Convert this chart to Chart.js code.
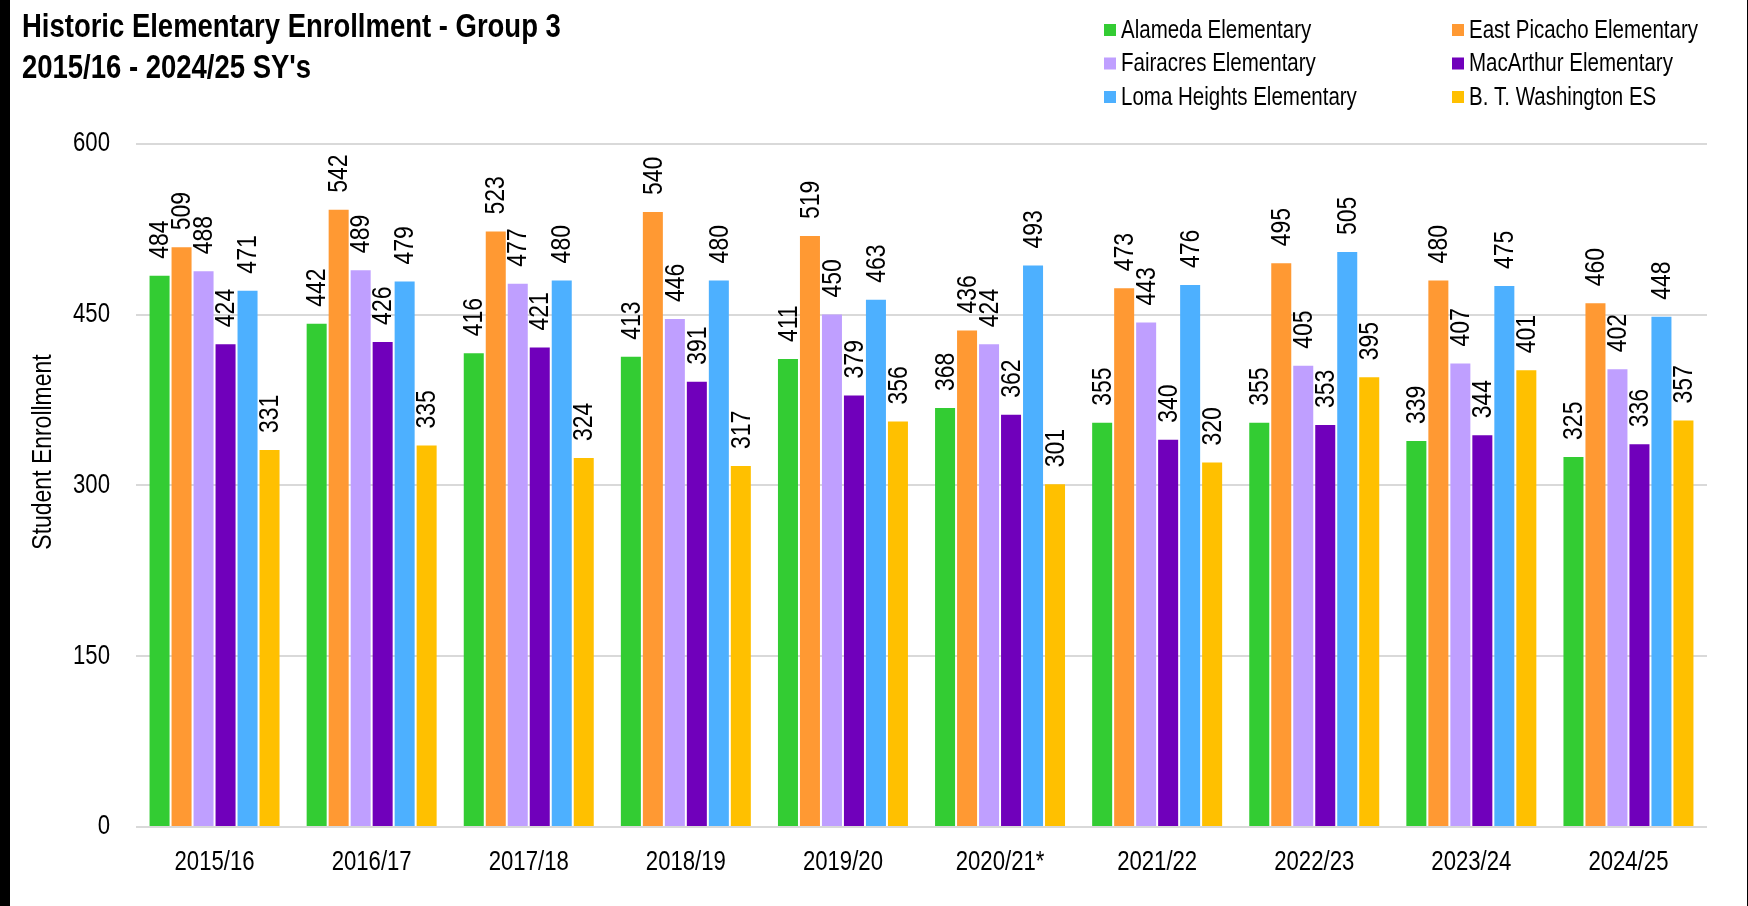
<!DOCTYPE html>
<html>
<head>
<meta charset="utf-8">
<script src="https://cdn.jsdelivr.net/npm/chart.js@4.4.1/dist/chart.umd.min.js"></script>
<style>
  html, body { margin: 0; padding: 0; background: #ffffff; }
  #wrap { position: absolute; left: 0; top: 0; width: 1737px; height: 906px; border-left: 10px solid #000; border-right: 1px solid #000; background: #fff; }
  canvas { display: block; }
</style>
</head>
<body>
<div id="wrap"><canvas id="c" width="1737" height="906"></canvas></div>
<script>
const years = ['2015/16','2016/17','2017/18','2018/19','2019/20','2020/21*','2021/22','2022/23','2023/24','2024/25'];
const schoolNames = ['Alameda Elementary','East Picacho Elementary','Fairacres Elementary','MacArthur Elementary','Loma Heights Elementary','B. T. Washington ES'];
const alameda     = [484,442,416,413,411,368,355,355,339,325];
const eastPicacho = [509,542,523,540,519,436,473,495,480,460];
const fairacres   = [488,489,477,446,450,424,443,405,407,402];
const macArthur   = [424,426,421,391,379,362,340,353,344,336];
const lomaHeights = [471,479,480,480,463,493,476,505,475,448];
const btWashington= [331,335,324,317,356,301,320,395,401,357];
const yTicks = [0,150,300,450,600];
const titleLines = ['Historic Elementary Enrollment - Group 3', "2015/16 - 2024/25 SY's"];
const yAxisTitle = 'Student Enrollment';

const colors = ['#33CC33','#FF9933','#BF9FFF','#7000BB','#4DB0FF','#FFC000'];
const seriesValues = [alameda, eastPicacho, fairacres, macArthur, lomaHeights, btWashington];
const FONT = "'Liberation Sans Narrow','Arial Narrow','Liberation Sans',Arial,sans-serif";

// The original uses a narrow typeface; emulate it by condensing text horizontally.
const NARROW = 0.82;
(function () {
  const proto = CanvasRenderingContext2D.prototype;
  const origFill = proto.fillText;
  const origMeasure = proto.measureText;
  proto.fillText = function (text, x, y, maxWidth) {
    this.save();
    this.translate(x, y);
    this.scale(NARROW, 1);
    if (maxWidth !== undefined) origFill.call(this, text, 0, 0, maxWidth / NARROW);
    else origFill.call(this, text, 0, 0);
    this.restore();
  };
  proto.measureText = function (text) {
    const m = origMeasure.call(this, text);
    return {
      width: m.width * NARROW,
      actualBoundingBoxAscent: m.actualBoundingBoxAscent,
      actualBoundingBoxDescent: m.actualBoundingBoxDescent,
      actualBoundingBoxLeft: m.actualBoundingBoxLeft * NARROW,
      actualBoundingBoxRight: m.actualBoundingBoxRight * NARROW,
      fontBoundingBoxAscent: m.fontBoundingBoxAscent,
      fontBoundingBoxDescent: m.fontBoundingBoxDescent
    };
  };
})();

const datasets = seriesValues.map((vals, i) => ({
  label: schoolNames[i],
  data: vals,
  backgroundColor: colors[i],
  borderWidth: 0,
  barPercentage: 0.91,
  categoryPercentage: 0.84
}));

const valueLabels = {
  id: 'valueLabels',
  afterDatasetsDraw(chart) {
    const ctx = chart.ctx;
    ctx.save();
    ctx.fillStyle = '#000';
    ctx.font = '28px ' + FONT;
    ctx.textAlign = 'left';
    ctx.textBaseline = 'middle';
    chart.data.datasets.forEach((ds, di) => {
      const meta = chart.getDatasetMeta(di);
      meta.data.forEach((el, idx) => {
        ctx.save();
        ctx.translate(el.x, el.y - 17);
        ctx.rotate(-Math.PI / 2);
        ctx.fillText(String(ds.data[idx]), 0, 1);
        ctx.restore();
      });
    });
    ctx.restore();
  }
};

const extras = {
  id: 'extras',
  afterDraw(chart) {
    const ctx = chart.ctx;
    ctx.save();
    // legend in two columns
    ctx.font = '25px ' + FONT;
    ctx.textAlign = 'left';
    ctx.textBaseline = 'middle';
    const colX = [1094, 1442];
    const rowY = [30, 63.5, 97];
    chart.data.datasets.forEach((ds, i) => {
      const cx = colX[i % 2];
      const cy = rowY[Math.floor(i / 2)];
      ctx.fillStyle = ds.backgroundColor;
      ctx.fillRect(cx, cy - 6, 12, 12);
      ctx.fillStyle = '#000';
      ctx.fillText(ds.label, cx + 17, cy + 1);
    });
    // y axis title
    ctx.font = '28px ' + FONT;
    ctx.textAlign = 'center';
    ctx.textBaseline = 'alphabetic';
    ctx.translate(41, 452);
    ctx.rotate(-Math.PI / 2);
    ctx.fillStyle = '#000';
    ctx.fillText(yAxisTitle, 0, 0);
    ctx.restore();
  }
};

new Chart(document.getElementById('c'), {
  type: 'bar',
  data: { labels: years, datasets },
  plugins: [valueLabels, extras],
  options: {
    responsive: false,
    animation: false,
    layout: { padding: { left: 12, right: 40, top: 0, bottom: 0 } },
    plugins: {
      legend: { display: false },
      tooltip: { enabled: false },
      title: {
        display: true,
        text: titleLines,
        align: 'start',
        color: '#000',
        font: { family: FONT, size: 33.5, weight: 'bold', lineHeight: 1.22 },
        padding: { top: 7, bottom: 55 }
      }
    },
    scales: {
      x: {
        grid: { display: false, drawTicks: false },
        border: { display: false },
        ticks: { color: '#000', font: { family: FONT, size: 27 }, padding: 19, maxRotation: 0, autoSkip: false },
        afterFit(s) { s.height = 79; }
      },
      y: {
        min: 0, max: 600,
        afterBuildTicks(s) { s.ticks = yTicks.map(v => ({ value: v })); },
        grid: { color: '#D9D9D9', lineWidth: 2, drawTicks: false },
        border: { display: false },
        ticks: { color: '#000', font: { family: FONT, size: 27 }, padding: 26 },
        title: { display: false },
        afterFit(s) { s.width = 114; }
      }
    }
  }
});
</script>
</body>
</html>
